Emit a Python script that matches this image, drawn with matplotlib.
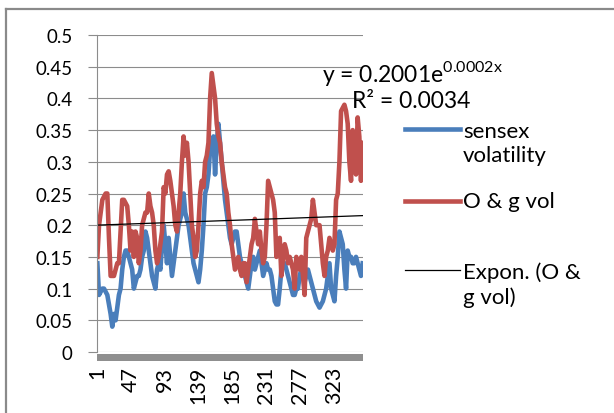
import matplotlib.pyplot as plt
import numpy as np
from matplotlib.lines import Line2D

plt.rcParams['font.family'] = ['Lato', 'DejaVu Sans']

# data (one value every ~2.27 days)
sensex_vol = [
    0.14, 0.09, 0.095, 0.1, 0.1, 0.095, 0.09, 0.075, 0.06, 0.04,
    0.06, 0.05, 0.07, 0.09, 0.1, 0.13, 0.15, 0.16, 0.16, 0.15,
    0.14, 0.13, 0.1, 0.11, 0.12, 0.12, 0.13, 0.15, 0.16, 0.19,
    0.18, 0.16, 0.14, 0.12, 0.11, 0.1, 0.13, 0.14, 0.13, 0.17,
    0.2, 0.17, 0.14, 0.18, 0.15, 0.12, 0.14, 0.16, 0.18, 0.2,
    0.21, 0.22, 0.25, 0.22, 0.21, 0.2, 0.18, 0.16, 0.14, 0.13,
    0.12, 0.11, 0.13, 0.16, 0.2, 0.25, 0.26, 0.28, 0.32, 0.33,
    0.34, 0.28, 0.33, 0.36, 0.33, 0.3, 0.27, 0.24, 0.22, 0.2,
    0.18, 0.17, 0.18, 0.19, 0.19, 0.17, 0.15, 0.14, 0.13, 0.12,
    0.11, 0.1, 0.12, 0.14, 0.15, 0.13, 0.14, 0.15, 0.16, 0.14,
    0.12, 0.13, 0.14, 0.13, 0.13, 0.12, 0.1, 0.08, 0.075, 0.075,
    0.1, 0.13, 0.14, 0.14, 0.13, 0.12, 0.11, 0.1, 0.09, 0.09,
    0.1, 0.1, 0.12, 0.13, 0.12, 0.11, 0.12, 0.13, 0.12, 0.11,
    0.1, 0.09, 0.08, 0.075, 0.07, 0.075, 0.08, 0.09, 0.1, 0.12,
    0.14, 0.1, 0.09, 0.08, 0.12, 0.15, 0.19, 0.18, 0.17, 0.13,
    0.1, 0.16, 0.15, 0.15, 0.14, 0.14, 0.15, 0.14, 0.13, 0.12,
    0.14]
og_vol = [
    0.15, 0.2, 0.22, 0.24, 0.245, 0.25, 0.25, 0.18, 0.12, 0.12,
    0.12, 0.13, 0.14, 0.14, 0.19, 0.24, 0.24, 0.235, 0.23, 0.2,
    0.16, 0.19, 0.15, 0.19, 0.18, 0.14, 0.16, 0.2, 0.21, 0.22,
    0.22, 0.25, 0.23, 0.22, 0.2, 0.16, 0.14, 0.15, 0.17, 0.19,
    0.26, 0.25, 0.28, 0.285, 0.27, 0.25, 0.23, 0.2, 0.19, 0.22,
    0.25, 0.3, 0.34, 0.31, 0.33, 0.3, 0.25, 0.2, 0.18, 0.15,
    0.16, 0.2, 0.25, 0.27, 0.26, 0.3, 0.31, 0.33, 0.4, 0.44,
    0.42, 0.4, 0.36, 0.34, 0.33, 0.3, 0.28, 0.26, 0.25, 0.22,
    0.2, 0.17, 0.15, 0.13, 0.14, 0.15, 0.13, 0.12, 0.14, 0.14,
    0.11, 0.13, 0.15, 0.17, 0.18, 0.21, 0.19, 0.17, 0.19, 0.16,
    0.14, 0.15, 0.2, 0.27, 0.26, 0.25, 0.24, 0.22, 0.15, 0.16,
    0.18, 0.12, 0.15, 0.17, 0.16, 0.14, 0.15, 0.14, 0.13, 0.1,
    0.15, 0.14, 0.13, 0.15, 0.12, 0.09, 0.18, 0.19, 0.2, 0.21,
    0.24, 0.22, 0.2, 0.2, 0.2, 0.17, 0.14, 0.12, 0.15, 0.16,
    0.18, 0.17, 0.16, 0.17, 0.24, 0.25, 0.3, 0.38, 0.385, 0.39,
    0.38, 0.36, 0.3, 0.27, 0.35, 0.33, 0.28, 0.37, 0.34, 0.27,
    0.33]
n_days = 362
tick_days = [1, 47, 93, 139, 185, 231, 277, 323]
# exponential trend fitted to O & g vol
fit_a = 0.2001
fit_b = 0.0002

blue = '#4a7ebb'
red = '#c0504d'
grey = '#8c8c8c'

fig = plt.figure(figsize=(6.14, 4.14), dpi=100)
ax = fig.add_axes([97/614, 61/414, 266/614, 317/414])

days = np.linspace(1, n_days, len(og_vol))
ax.plot(days, sensex_vol, color=blue, lw=3.3, solid_joinstyle='round')
ax.plot(days, og_vol, color=red, lw=3.3, solid_joinstyle='round')
tx = np.arange(1, n_days + 1)
ax.plot(tx, fit_a*np.exp(fit_b*tx), color='black', lw=0.9)

ax.set_xlim(0.5, n_days + 0.5)
ax.set_ylim(0, 0.5)
ax.set_yticks(np.arange(0, 0.501, 0.05))
ax.set_yticklabels(['%g' % round(v, 2) for v in np.arange(0, 0.501, 0.05)])
ax.set_xticks(tick_days)
ax.set_xticklabels([str(d) for d in tick_days], rotation=90, va='top')
ax.tick_params(axis='y', direction='out', length=6.5, width=0.8, color=grey,
               pad=11, labelsize=13.5)
ax.tick_params(axis='x', length=0, pad=10, labelsize=15.5)
ax.grid(axis='y', color=grey, lw=0.8)
ax.set_axisbelow(True)
for s in ['top', 'right', 'bottom']:
    ax.spines[s].set_visible(False)
ax.spines['left'].set_color(grey)
ax.spines['left'].set_linewidth(0.8)
# thick grey category axis bar
ax.add_patch(plt.Rectangle((0, -0.028), 1, 0.022, transform=ax.transAxes,
                           color='#8f8f8f', clip_on=False, lw=0))

# trendline label
fig.text(322/614, 1 - 73/414, 'y = 0.2001e$^{\\mathregular{0.0002x}}$',
         fontsize=16.5, va='center', ha='left')
fig.text(352/614, 1 - 102/414, 'R² = 0.0034', fontsize=16.5,
         va='center', ha='left')

# legend
leg = [(blue, 3.3, 130, 'sensex\nvolatility'),
       (red, 3.3, 202, 'O & g vol'),
       ('black', 0.9, 271, 'Expon. (O &\ng vol)')]
for c, w, y, lab in leg:
    fig.add_artist(Line2D([405/614, 460/614], [1 - y/414, 1 - y/414],
                          color=c, lw=w, transform=fig.transFigure))
    yc = y + 14 if '\n' in lab else y
    fig.text(463/614, 1 - yc/414, lab, fontsize=16, va='center',
             ha='left', linespacing=1.25)

# chart border (top and left visible)
fig.add_artist(Line2D([6/614, 1], [1 - 10/414, 1 - 10/414], color='#8a8a8a',
                      lw=1.6, transform=fig.transFigure))
fig.add_artist(Line2D([6/614, 6/614], [0, 1 - 10/414], color='#8a8a8a',
                      lw=1.6, transform=fig.transFigure))

fig.savefig('out.png', dpi=100)
